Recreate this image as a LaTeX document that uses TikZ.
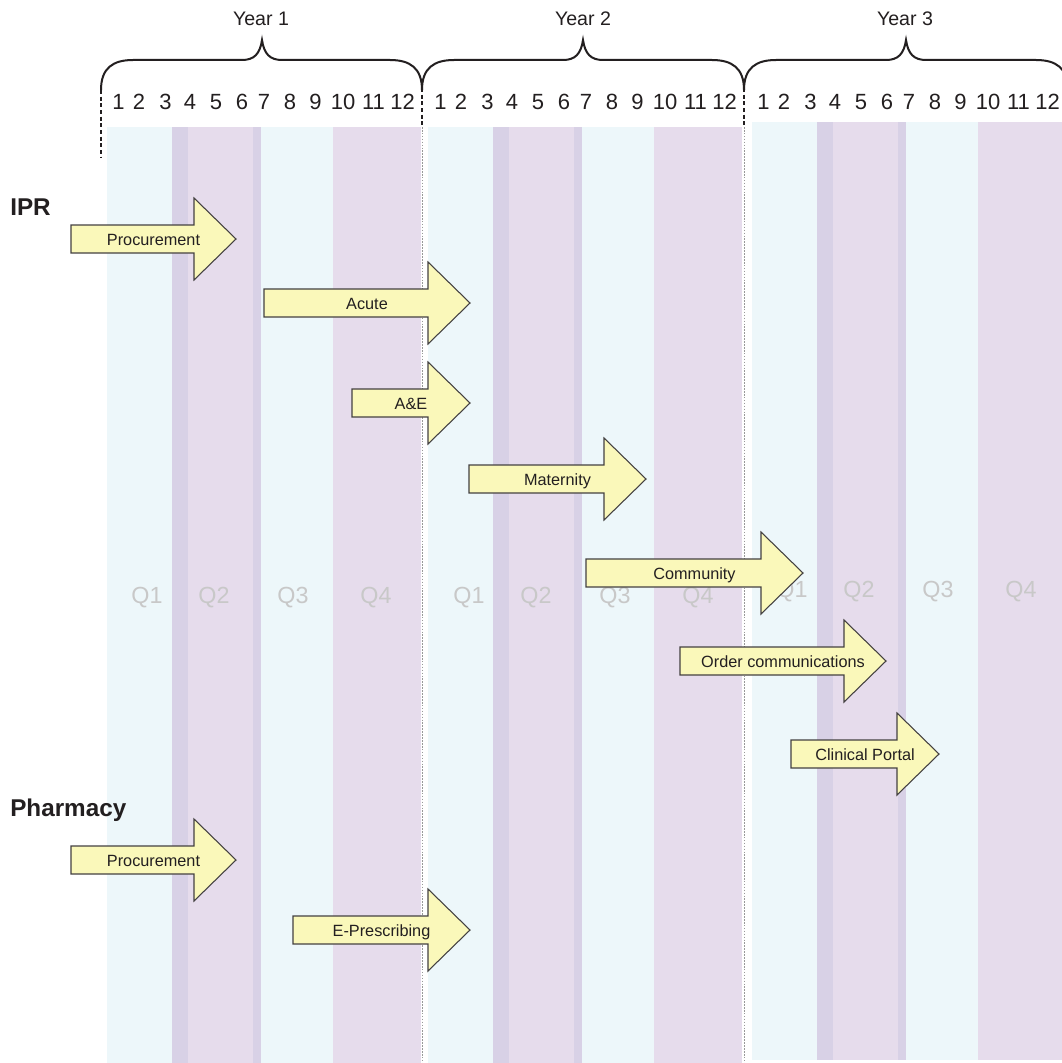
\documentclass[tikz,border=0pt]{standalone}
\usepackage{fontspec}
\setmainfont{Liberation Sans}
\definecolor{qblue}{RGB}{237,247,250}
\definecolor{qpurple}{RGB}{230,220,236}
\definecolor{qdark}{RGB}{216,209,230}
\definecolor{arrfill}{RGB}{250,248,186}
\definecolor{inkc}{RGB}{35,31,32}
\definecolor{qtext}{RGB}{200,200,200}
\newcommand\ganttarrow[5]{%
  \draw[garr] (#2,#4-14) -- (#3-42,#4-14) -- (#3-42,#4-41) -- (#3,#4) -- (#3-42,#4+41) -- (#3-42,#4+14) -- (#2,#4+14) -- cycle;
  \node[arrtext, anchor=base] (#1) at ({(#2+#3)/2},#4+6) {#5};}
\begin{document}
\begin{tikzpicture}[x=0.75pt,y=-0.75pt,
  garr/.style={draw=inkc!85, fill=arrfill, line width=0.8pt, line join=miter},
  arrtext/.style={font=\fontsize{12.2}{14}\selectfont, text=inkc, inner sep=0pt},
  month/.style={font=\fontsize{16.5}{19}\selectfont, text=inkc, inner sep=0pt},
  yearlab/.style={font=\fontsize{14.7}{17}\selectfont, text=inkc, inner sep=0pt},
  qlab/.style={font=\fontsize{17.5}{20}\selectfont, text=qtext, inner sep=0pt},
  grouplab/.style={font=\bfseries\fontsize{18.2}{21}\selectfont, text=inkc, inner sep=0pt, anchor=base west},
  brace/.style={draw=inkc, line width=1.5pt},
  ydash/.style={draw=inkc, line width=1pt, dash pattern=on 3pt off 2pt},
  ydot/.style={draw=gray!80, line width=0.6pt, dash pattern=on 1.2pt off 1pt}]

\clip (0,0) rectangle (1062,1063);
\fill[white] (0,0) rectangle (1062,1063);

% quarter bands
\foreach \o/\t/\b in {0/127/1063, 321/127/1063, 645/122/1060} {
  \fill[qblue] (107+\o,\t) rectangle (172+\o,\b);
  \fill[qpurple] (172+\o,\t) rectangle (261+\o,\b);
  \fill[qdark] (172+\o,\t) rectangle (188+\o,\b);
  \fill[qdark] (253+\o,\t) rectangle (261+\o,\b);
  \fill[qblue] (261+\o,\t) rectangle (333+\o,\b);
  \fill[qpurple] (333+\o,\t) rectangle (421+\o,\b);
}

% quarter labels
\foreach \o/\yy/\n in {0/598/a, 322/598/b, 645/592/c} {
  \foreach \q/\x in {1/147, 2/214, 3/293, 4/376} {
    \node[qlab] (q\n\q) at (\x+\o,\yy) {Q\q};
  }
}

% year separators
\draw[ydash] (101,90) -- (101,157);
\draw[ydash] (422,88) -- (422,127);
\draw[ydot] (422,127) -- (422,1063);
\draw[ydash] (744,88) -- (744,127);
\draw[ydot] (744,127) -- (744,1063);

% braces
\foreach \a/\m/\b in {101/262/422, 422/583/744, 744/906/1068} {
  \draw[brace] (\a,90) .. controls (\a,68) and (\a+12,60) .. (\a+32,60) -- (\m-20,60)
    .. controls (\m-8,60) and (\m-2,54) .. (\m,40)
    .. controls (\m+2,54) and (\m+8,60) .. (\m+20,60) -- (\b-32,60)
    .. controls (\b-12,60) and (\b,68) .. (\b,90);
}
\node[yearlab] (y1) at (261,19) {Year 1};
\node[yearlab] (y2) at (583,19) {Year 2};
\node[yearlab] (y3) at (905,19) {Year 3};

% months
\foreach \o/\n in {0/a, 322/b, 645/c} {
  \foreach \m/\x in {1/118.5, 2/139, 3/165.5, 4/190, 5/216, 6/242, 7/264, 8/290, 9/315.5, 10/343, 11/373.5, 12/402.5} {
    \node[month] (m\n\m) at (\x+\o,102) {\m};
  }
}

% group labels
\node[grouplab] (ipr) at (10,215) {IPR};
\node[grouplab] (pharm) at (10,816) {Pharmacy};

% task arrows
\ganttarrow{procA}{71}{236}{239}{Procurement}
\ganttarrow{acute}{264}{470}{303}{Acute}
\ganttarrow{ae}{352}{470}{403}{A\&E}
\ganttarrow{mat}{469}{646}{479}{Maternity}
\ganttarrow{comm}{586}{803}{573}{Community}
\ganttarrow{order}{680}{886}{661}{Order communications}
\ganttarrow{portal}{791}{939}{754}{Clinical Portal}
\ganttarrow{procB}{71}{236}{860}{Procurement}
\ganttarrow{epres}{293}{470}{930}{E-Prescribing}
\end{tikzpicture}
\end{document}
